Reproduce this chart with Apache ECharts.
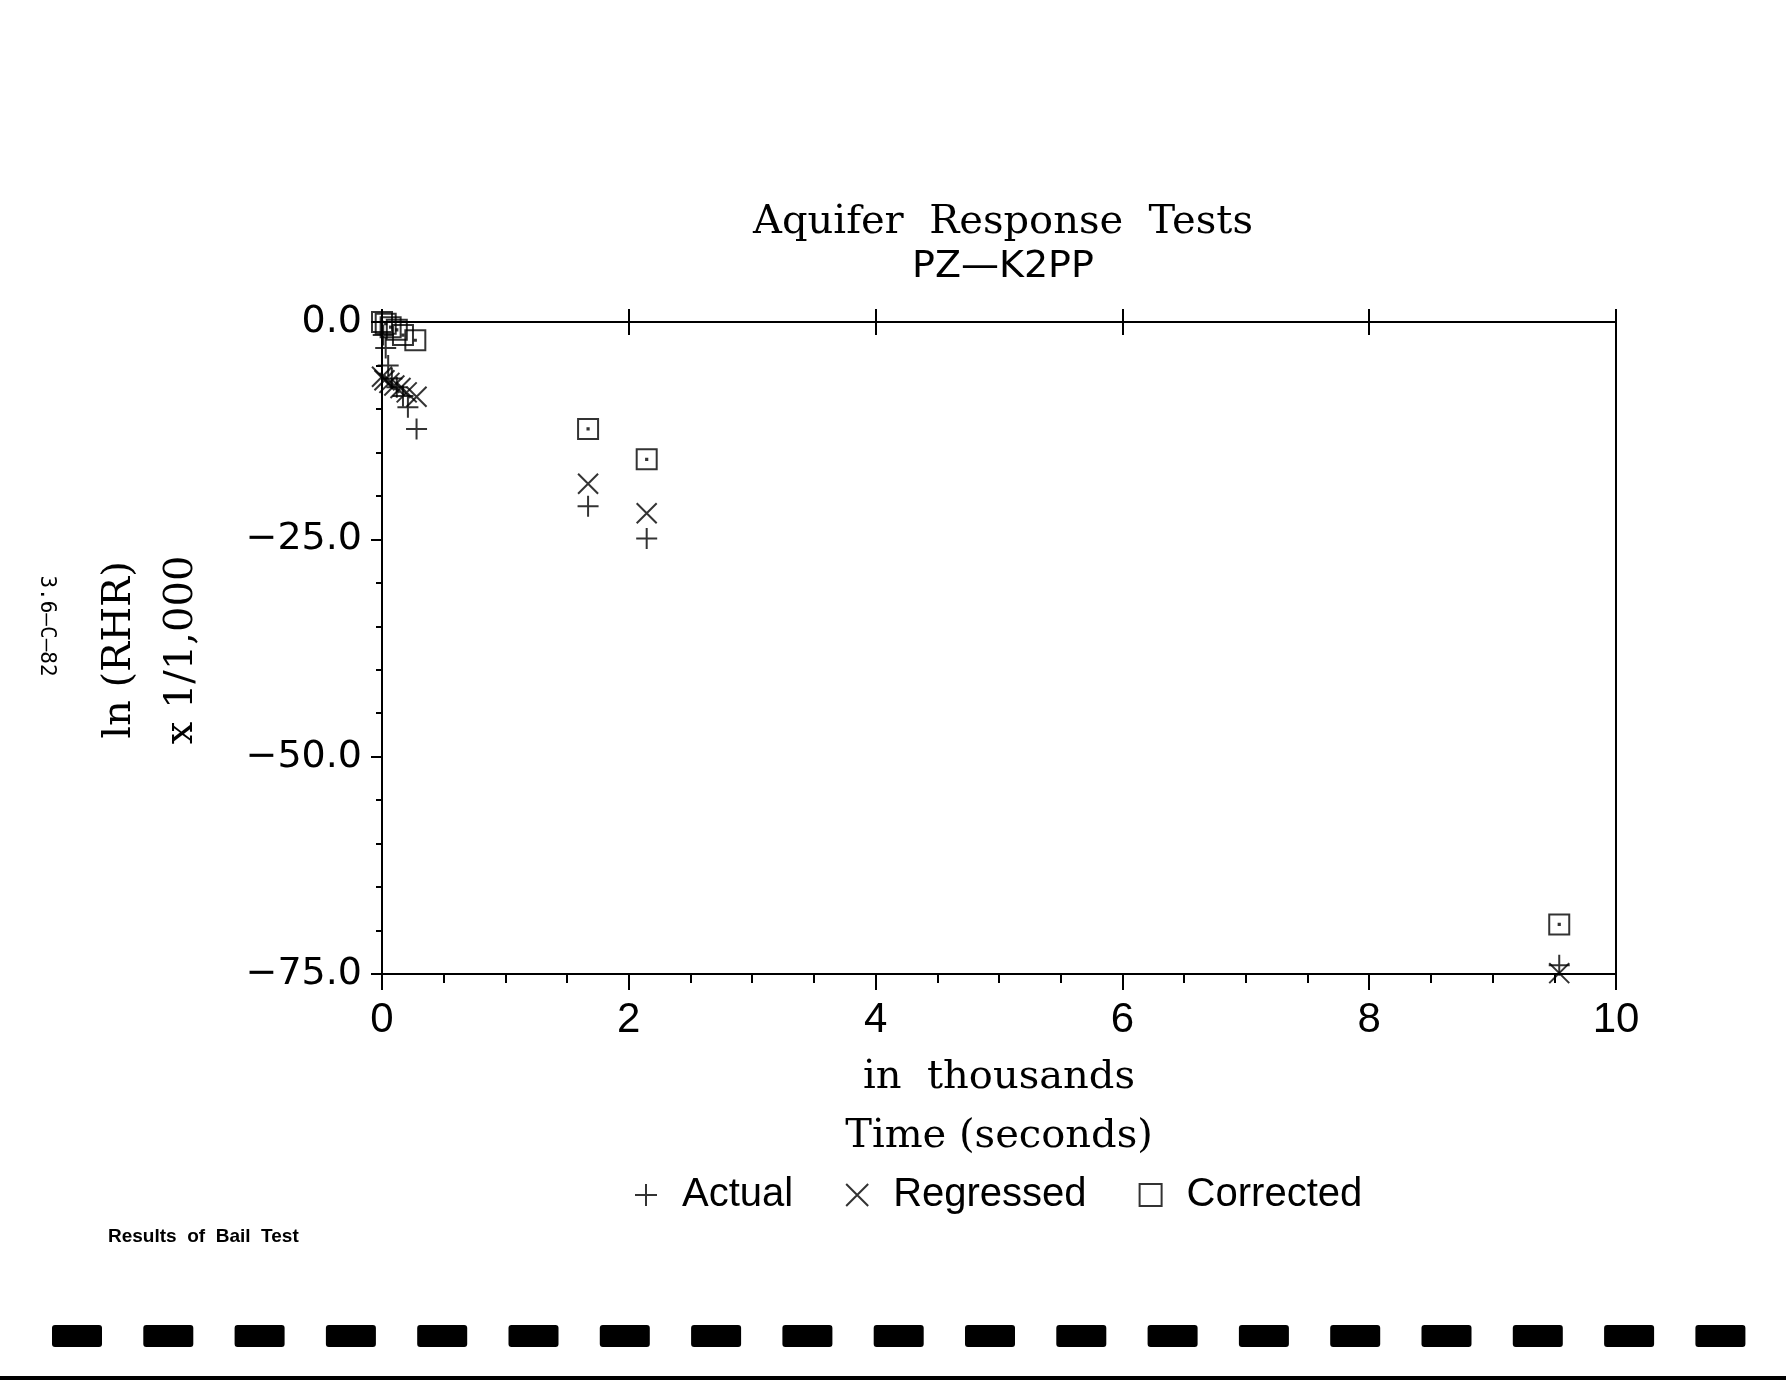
<!DOCTYPE html>
<html>
<head>
<meta charset="utf-8">
<script src="https://cdn.jsdelivr.net/npm/echarts@6/dist/echarts.min.js"></script>
<style>
html,body{margin:0;padding:0;background:#fff;}
#chart{width:1786px;height:1380px;}
</style>
</head>
<body>
<div id="chart"></div>
<script>
// ---- data (time in thousands of seconds, ln(RHR) x 1/1,000) ----
var actualTime   = [0.01, 0.03, 0.05, 0.08, 0.12, 0.17, 0.21, 0.28, 1.67, 2.145, 9.54];
var actualVal    = [-1.5, -3.0, -5.0, -6.5, -7.5, -8.5, -9.8, -12.3, -21.2, -24.9, -74.0];
var regressTime  = [0.0, 0.02, 0.06, 0.10, 0.15, 0.20, 0.28, 1.67, 2.145, 9.54];
var regressVal   = [-6.3, -6.7, -7.0, -7.3, -7.6, -8.1, -8.6, -18.6, -22.0, -74.9];
var correctTime  = [0.0, 0.03, 0.07, 0.12, 0.17, 0.27, 1.67, 2.145, 9.54];
var correctVal   = [0.0, -0.2, -0.6, -0.9, -1.5, -2.1, -12.3, -15.8, -69.3];
var seriesNames  = ['Actual', 'Regressed', 'Corrected'];
var xTicks = [0, 2, 4, 6, 8, 10];
var yTicks = [0, -25, -50, -75];

function pairs(xs, ys){ return xs.map(function(x,i){ return [x, ys[i]]; }); }

var plusPath   = 'path://M0,10H20M10,0V20';
var crossPath  = 'path://M0,0L20,20M20,0L0,20';
var squarePath = 'path://M0,0H20V20H0Z M9.4,9.4H10.6V10.6H9.4Z';
var squareIcon = 'path://M0,0H20V20H0Z';

var markStyle = { color: 'rgba(0,0,0,0)', borderColor: '#000', borderWidth: 2 };
var lineSt = { color: '#000', width: 2 };
var axisLine = { show: true, onZero: false, lineStyle: lineSt };

var dashes = [];
for (var i = 0; i < 19; i++) {
  dashes.push({ type: 'rect', shape: { x: 52 + i * 91.3, y: 1325, width: 50, height: 22, r: 3 },
    style: { fill: '#000' }, silent: true });
}

var chart = echarts.init(document.getElementById('chart'), null, { renderer: 'canvas' });
chart.setOption({
  backgroundColor: '#fff',
  animation: false,
  title: [
    { text: 'Aquifer  Response  Tests', left: 998, top: 198, textAlign: 'center',
      textStyle: { fontFamily: 'DejaVu Serif', fontWeight: 'normal', fontSize: 40, color: '#000' } },
    { text: 'PZ\u2014K2PP', left: 998, top: 243, textAlign: 'center',
      textStyle: { fontFamily: 'DejaVu Sans', fontWeight: 'normal', fontSize: 38, color: '#000' } }
  ],
  grid: { left: 382, right: 170, top: 322, bottom: 406, containLabel: false },
  legend: {
    left: 629, top: 1170, itemGap: 52, itemWidth: 22, itemHeight: 22,
    data: [
      { name: 'Actual', icon: plusPath },
      { name: 'Regressed', icon: crossPath },
      { name: 'Corrected', icon: squareIcon }
    ],
    itemStyle: markStyle,
    textStyle: { fontFamily: 'Liberation Sans', fontSize: 40, color: '#000', padding: [0, 0, 0, 20] }
  },
  xAxis: [
    { type: 'value', position: 'bottom', min: 0, max: 10, interval: 2,
      axisLine: axisLine,
      axisTick: { show: true, length: 16, lineStyle: lineSt },
      minorTick: { show: true, splitNumber: 4, length: 9, lineStyle: lineSt },
      splitLine: { show: false },
      axisLabel: { margin: 25, fontFamily: 'Liberation Sans', fontSize: 42, color: '#000',
        formatter: function(v){ return xTicks.indexOf(v) >= 0 ? String(v) : ''; } },
      name: 'in  thousands\nTime (seconds)', nameLocation: 'middle', nameGap: 74,
      nameTextStyle: { fontFamily: 'DejaVu Serif', fontSize: 40, color: '#000', lineHeight: 59 } },
    { type: 'value', position: 'top', min: 0, max: 10, interval: 2,
      axisLine: axisLine,
      axisTick: { show: true, inside: false, length: 13, lineStyle: lineSt },
      axisLabel: { show: false }, splitLine: { show: false } },
    { type: 'value', position: 'top', min: 0, max: 10, interval: 2,
      axisLine: { show: false, onZero: false },
      axisTick: { show: true, inside: true, length: 13, lineStyle: lineSt },
      axisLabel: { show: false }, splitLine: { show: false } }
  ],
  yAxis: [
    { type: 'value', position: 'left', min: -75, max: 0, interval: 25,
      axisLine: axisLine,
      axisTick: { show: true, length: 11, lineStyle: lineSt },
      minorTick: { show: true, splitNumber: 5, length: 6, lineStyle: lineSt },
      splitLine: { show: false },
      axisLabel: { margin: 20, fontFamily: 'DejaVu Sans', fontSize: 38, color: '#000',
        formatter: function(v){ return yTicks.indexOf(v) >= 0 ? (v < 0 ? '\u2212' + Math.abs(v).toFixed(1) : v.toFixed(1)) : ''; } } },
    { type: 'value', position: 'right', min: -75, max: 0, interval: 25,
      axisLine: axisLine, axisTick: { show: false }, axisLabel: { show: false }, splitLine: { show: false } }
  ],
  series: [
    { name: seriesNames[0], type: 'scatter', xAxisIndex: 0, yAxisIndex: 0, symbol: plusPath, symbolSize: 21,
      clip: false, itemStyle: markStyle, data: pairs(actualTime, actualVal) },
    { name: seriesNames[1], type: 'scatter', xAxisIndex: 0, yAxisIndex: 0, symbol: crossPath, symbolSize: 20,
      clip: false, itemStyle: markStyle, data: pairs(regressTime, regressVal) },
    { name: seriesNames[2], type: 'scatter', xAxisIndex: 0, yAxisIndex: 0, symbol: squarePath, symbolSize: 20,
      clip: false, itemStyle: markStyle, data: pairs(correctTime, correctVal) }
  ],
  graphic: [
    { type: 'text', x: 151, y: 650, rotation: Math.PI / 2,
      style: { text: 'ln (RHR)\nx 1/1,000', fontFamily: 'DejaVu Serif', fontSize: 40, lineHeight: 62,
        fill: '#000', align: 'center', verticalAlign: 'middle' } },
    { type: 'text', x: 46, y: 626, rotation: -Math.PI / 2,
      style: { text: '3.6\u2013C\u201382', fontFamily: 'DejaVu Sans Mono', fontSize: 21,
        fill: '#000', align: 'center', verticalAlign: 'middle' } },
    { type: 'text', x: 108, y: 1237,
      style: { text: 'Results  of  Bail  Test', fontFamily: 'Liberation Sans', fontWeight: 'bold', fontSize: 19,
        fill: '#000', align: 'left', verticalAlign: 'middle' } },
    { type: 'rect', shape: { x: 0, y: 1376, width: 1786, height: 4 }, style: { fill: '#000' }, silent: true }
  ].concat(dashes)
});
</script>
</body>
</html>
